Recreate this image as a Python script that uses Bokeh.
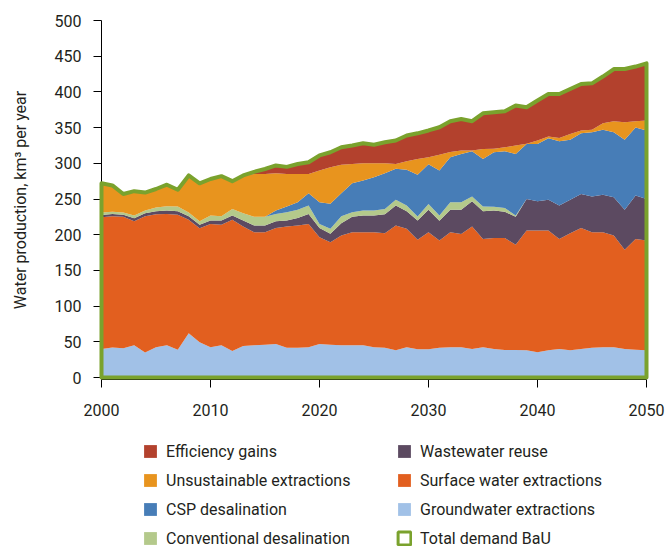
import numpy as np
from bokeh.plotting import figure
from bokeh.layouts import column
from bokeh.models import ColumnDataSource, Legend, LegendItem, FixedTicker, Range1d
from bokeh.embed import file_html
from bokeh.resources import INLINE

years = list(range(2000, 2051))

groundwater = [40, 42, 41, 45, 35, 42.5, 45, 39, 62, 49.5,
               42.5, 45, 37, 44, 45, 46, 47, 41.5, 41.5, 42.5,
               47, 46, 45, 45, 45, 42.5, 41.5, 38, 42.5, 39.5,
               39.5, 41.5, 42.5, 42.5, 40, 42.5, 40, 38.5, 38.5, 38,
               35.5, 38, 40, 38, 40, 41.5, 42.5, 42.5, 40, 39, 38]
surface = [184.5, 184, 184, 174, 191, 186, 184, 189, 159, 159.5,
           172.5, 169, 184, 167.5, 158.5, 157.5, 162.5, 170, 171.5, 172.5,
           149.5, 143.5, 154, 158.5, 158.5, 161, 160.5, 175, 166, 153.5,
           164, 150.5, 161, 158.5, 171.5, 151.5, 155.5, 157, 147.5, 168,
           170.5, 168, 154, 164, 169.5, 162, 161, 156.5, 139, 155, 154]
wastewater = [3, 3, 3, 4, 4, 4.5, 5, 5, 5, 5,
              5, 6, 6, 8.5, 9.5, 9.5, 9.5, 8.5, 10.5, 14,
              13, 12, 17, 21.5, 23.5, 23.5, 26.5, 28, 24.5, 27,
              31.5, 27.5, 31.5, 34, 35.5, 39, 38.5, 36.5, 39, 44,
              41, 43, 47, 47, 47.5, 50, 52.5, 53.5, 56, 61, 58]
conventional = [3.5, 3, 3, 4, 4, 5, 6, 6.5, 5, 5,
                7, 6, 9, 10, 12, 12, 10, 11.5, 11.5, 12,
                5.5, 7, 10, 6.5, 7, 7, 7.5, 8, 8, 5.5,
                8, 7.5, 10.5, 10.5, 6.5, 6.5, 5, 5.5, 2, 0,
                0, 0, 0, 0, 0, 0, 0, 0, 0, 0, 0]
csp = [0, 0, 0, 0, 0, 0, 0, 0, 0, 0,
       0, 0, 0, 0, 0, 0, 5, 8, 10.5, 17,
       30.5, 35, 32, 40.5, 42, 46.5, 50, 43.5, 50, 58.5,
       55.5, 63, 63, 67.5, 63.5, 66.5, 76.5, 79.5, 86, 77,
       80, 86, 90, 84, 85, 90, 91, 91, 98, 95, 96]
unsustainable = [41, 37, 26, 34, 25, 26, 30, 23.5, 52, 53,
                 51, 56, 39, 52, 60, 60, 52, 45.5, 39.5, 27,
                 44.5, 51, 40, 27, 24, 19.5, 14, 6.5, 12, 22,
                 10, 22, 7.5, 5, 1, 14, 5, 5.5, 12, 0.5,
                 5, 2.5, 4.5, 8, 4, 3.5, 9, 15.5, 24.5, 9, 14]
efficiency = [0, 0, 0, 0, 0, 0, 0, 0, 0, 0,
              0, 0, 0, 1, 3, 7, 11, 10, 14, 16.5,
              21, 21, 24.5, 26, 28, 26, 29.5, 33, 36, 36,
              37.5, 38.5, 43, 44, 41, 50, 51, 50.5, 56, 51,
              56, 59.5, 61.5, 63, 65, 65, 65.5, 73, 74.5, 76.5, 80]

keys = ["gw", "surf", "ww", "conv", "csp", "uns", "eff"]
names = ["Groundwater extractions", "Surface water extractions", "Wastewater reuse",
         "Conventional desalination", "CSP desalination", "Unsustainable extractions",
         "Efficiency gains"]
colors = ["#a1c1e7", "#e25f1f", "#5c4a61", "#b4c98b", "#477db7", "#e8941e", "#b3412d"]
total_label = "Total demand BaU"
total_color = "#7aa22d"
text_color = "#231f20"
FONT = "Roboto"

data = dict(year=years, gw=groundwater, surf=surface, ww=wastewater, conv=conventional,
            csp=csp, uns=unsustainable, eff=efficiency)
src = ColumnDataSource(data)

total = np.sum([np.array(data[k], dtype=float) for k in keys], axis=0)
outline_x = years + [years[-1], years[0]]
outline_y = list(total) + [0, 0]

# ---------------- main chart ----------------
p = figure(width=665, height=429, output_backend="svg", toolbar_location=None,
           x_range=Range1d(2000, 2050), y_range=Range1d(-2.8, 500),
           min_border_left=101, min_border_right=19, min_border_top=20, min_border_bottom=50)

rs = p.varea_stack(stackers=keys, x="year", color=colors, source=src)
outline = p.patch(outline_x, outline_y, fill_alpha=0, line_color=total_color,
                  line_width=4, line_join="round")
outline.level = "overlay"

p.xgrid.visible = False
p.ygrid.visible = False
p.outline_line_color = None

p.xaxis.ticker = FixedTicker(ticks=[2000, 2010, 2020, 2030, 2040, 2050])
p.yaxis.ticker = FixedTicker(ticks=list(range(0, 501, 50)))
for ax in (p.xaxis, p.yaxis):
    ax.major_tick_in = 0
    ax.major_tick_out = 8
    ax.minor_tick_in = 0
    ax.minor_tick_out = 0
    ax.axis_line_color = "black"
    ax.major_tick_line_color = "black"
    ax.major_label_text_font = FONT
    ax.major_label_text_font_size = "16px"
    ax.major_label_text_color = text_color
p.yaxis.major_label_standoff = 12
p.xaxis.major_label_standoff = 16
p.yaxis.axis_label = "Water production, km³ per year"
p.yaxis.axis_label_text_font = FONT
p.yaxis.axis_label_text_font_size = "16px"
p.yaxis.axis_label_text_font_style = "normal"
p.yaxis.axis_label_text_color = text_color
p.yaxis.axis_label_standoff = 22

# ---------------- legend panel ----------------
pl = figure(width=665, height=120, output_backend="svg", toolbar_location=None,
            x_range=Range1d(0, 1), y_range=Range1d(0, 1),
            x_axis_location=None, y_axis_location=None,
            min_border_left=0, min_border_right=0, min_border_top=0, min_border_bottom=0)
pl.xgrid.visible = False
pl.ygrid.visible = False
pl.outline_line_color = None

leg_r = {}
for k, n, c in zip(keys, names, colors):
    # same data, lying outside this panel's ranges: only the legend swatches show
    leg_r[n] = pl.varea(x="year", y1=0, y2=k, source=src, color=c)
leg_total = pl.patch(outline_x, outline_y, fill_alpha=0, line_color=total_color, line_width=3)

col1 = ["Efficiency gains", "Unsustainable extractions", "CSP desalination",
        "Conventional desalination"]
col2 = ["Wastewater reuse", "Surface water extractions", "Groundwater extractions"]
items1 = [LegendItem(label=n, renderers=[leg_r[n]]) for n in col1]
items2 = [LegendItem(label=n, renderers=[leg_r[n]]) for n in col2]
items2.append(LegendItem(label=total_label, renderers=[leg_total]))


def make_legend(items, x):
    return Legend(items=items, location=(x, 1), orientation="vertical",
                  background_fill_alpha=0, border_line_alpha=0, padding=0, margin=0,
                  spacing=9, label_height=20, glyph_width=16, glyph_height=16,
                  label_standoff=8, label_text_font=FONT, label_text_font_size="16px",
                  label_text_color=text_color)


pl.add_layout(make_legend(items1, 41))
pl.add_layout(make_legend(items2, 295))

layout = column(p, pl, spacing=0)
open("out.html", "w").write(file_html(layout, INLINE))
